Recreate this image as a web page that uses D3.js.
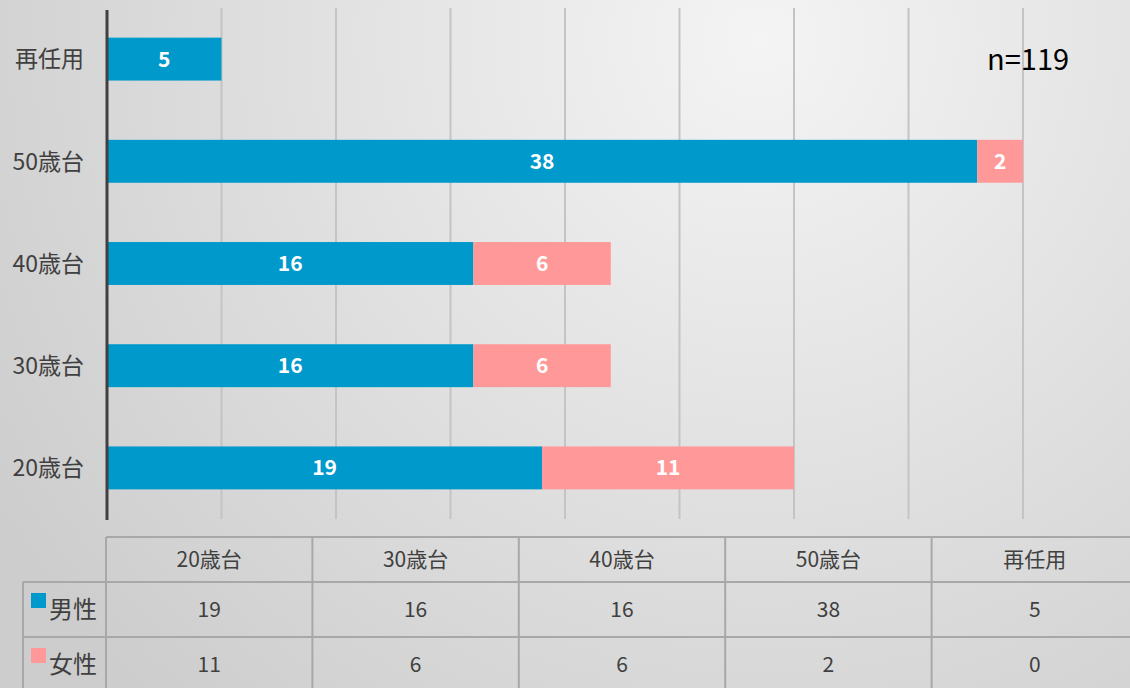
<!DOCTYPE html>
<html>
<head>
<meta charset="utf-8">
<script src="https://cdn.jsdelivr.net/npm/d3@7"></script>
<style>
  body { margin: 0; overflow: hidden; }
  svg { display: block; font-family: "Noto Sans CJK JP", "Noto Sans", sans-serif; }
</style>
</head>
<body>
<script>
// data
var categories = ["再任用", "50歳台", "40歳台", "30歳台", "20歳台"];
var tableOrder = ["20歳台", "30歳台", "40歳台", "50歳台", "再任用"];
var male = { "20歳台": 19, "30歳台": 16, "40歳台": 16, "50歳台": 38, "再任用": 5 };
var female = { "20歳台": 11, "30歳台": 6, "40歳台": 6, "50歳台": 2, "再任用": 0 };
var seriesNames = ["男性", "女性"];
var colors = ["#0099cc", "#ff9999"];
var xTicks = [5, 10, 15, 20, 25, 30, 35, 40];

var W = 1130, H = 688;

var svg = d3.select("body").append("svg")
  .attr("width", W)
  .attr("height", H);

var defs = svg.append("defs");
var grad = defs.append("radialGradient")
  .attr("id", "bg")
  .attr("gradientUnits", "userSpaceOnUse")
  .attr("cx", 760).attr("cy", 40).attr("r", 900);
grad.append("stop").attr("offset", "0%").attr("stop-color", "#f4f4f4");
grad.append("stop").attr("offset", "100%").attr("stop-color", "#cdcdcd");

svg.append("rect")
  .attr("width", W).attr("height", H)
  .attr("fill", "url(#bg)");

var x = d3.scaleLinear().domain([0, 40]).range([107, 1023]);
var y = d3.scaleBand().domain(categories).range([8, 519]).paddingInner(0.58).paddingOuter(0.29);

// gridlines
svg.append("g").selectAll("line")
  .data(xTicks)
  .enter().append("line")
  .attr("x1", function(d) { return x(d); })
  .attr("x2", function(d) { return x(d); })
  .attr("y1", 8).attr("y2", 519)
  .attr("stroke", "#c4c4c4")
  .attr("stroke-width", 2);

// stacked bars
var stackData = categories.map(function(c) {
  return { cat: c, "男性": male[c], "女性": female[c] };
});
var stack = d3.stack().keys(seriesNames)(stackData);

var layers = svg.append("g").selectAll("g")
  .data(stack)
  .enter().append("g")
  .attr("fill", function(d, i) { return colors[i]; });

layers.selectAll("rect")
  .data(function(d) { return d.filter(function(s) { return s[1] - s[0] > 0; }); })
  .enter().append("rect")
  .attr("x", function(d) { return x(d[0]); })
  .attr("y", function(d) { return y(d.data.cat); })
  .attr("width", function(d) { return x(d[1]) - x(d[0]); })
  .attr("height", y.bandwidth());

layers.selectAll("text")
  .data(function(d) { return d.filter(function(s) { return s[1] - s[0] > 0; }); })
  .enter().append("text")
  .attr("x", function(d) { return (x(d[0]) + x(d[1])) / 2; })
  .attr("y", function(d) { return y(d.data.cat) + y.bandwidth() / 2; })
  .attr("dy", "0.36em")
  .attr("text-anchor", "middle")
  .attr("fill", "#ffffff")
  .attr("font-weight", "bold")
  .attr("font-size", 21)
  .text(function(d) { return d[1] - d[0]; });

// y axis
svg.append("line")
  .attr("x1", 107).attr("x2", 107)
  .attr("y1", 10).attr("y2", 520)
  .attr("stroke", "#404040")
  .attr("stroke-width", 3);

svg.append("g").selectAll("text")
  .data(categories)
  .enter().append("text")
  .attr("x", 84)
  .attr("y", function(d) { return y(d) + y.bandwidth() / 2; })
  .attr("dy", "0.36em")
  .attr("text-anchor", "end")
  .attr("fill", "#404040")
  .attr("font-size", 23)
  .text(function(d) { return d; });

// n label
svg.append("text")
  .attr("x", 987).attr("y", 70)
  .attr("font-size", 29)
  .attr("fill", "#000")
  .text("n=119");

// data table
var colX = d3.scaleBand().domain(tableOrder).range([106, 1138]);
var rowTop = [537, 582, 637, 700];
var tbl = svg.append("g");
var lineColor = "#a8a8a8";

// horizontal lines
tbl.append("line").attr("x1", 106).attr("x2", W).attr("y1", rowTop[0]).attr("y2", rowTop[0])
  .attr("stroke", lineColor).attr("stroke-width", 2);
[rowTop[1], rowTop[2]].forEach(function(yy) {
  tbl.append("line").attr("x1", 23).attr("x2", W).attr("y1", yy).attr("y2", yy)
    .attr("stroke", lineColor).attr("stroke-width", 2);
});
// vertical lines
tbl.selectAll("line.v")
  .data(tableOrder)
  .enter().append("line")
  .attr("class", "v")
  .attr("x1", function(d) { return colX(d); })
  .attr("x2", function(d) { return colX(d); })
  .attr("y1", rowTop[0])
  .attr("y2", H)
  .attr("stroke", lineColor).attr("stroke-width", 2);
tbl.append("line").attr("x1", 23).attr("x2", 23).attr("y1", rowTop[1]).attr("y2", H)
  .attr("stroke", lineColor).attr("stroke-width", 2);

// header
tbl.selectAll("text.h")
  .data(tableOrder)
  .enter().append("text")
  .attr("class", "h")
  .attr("x", function(d) { return colX(d) + colX.bandwidth() / 2; })
  .attr("y", (rowTop[0] + rowTop[1]) / 2)
  .attr("dy", "0.36em")
  .attr("text-anchor", "middle")
  .attr("fill", "#404040")
  .attr("font-size", 21)
  .text(function(d) { return d; });

var rows = [male, female];
rows.forEach(function(r, ri) {
  var cy = ri === 0 ? 609 : 664;
  tbl.append("g").selectAll("text")
    .data(tableOrder)
    .enter().append("text")
    .attr("x", function(d) { return colX(d) + colX.bandwidth() / 2; })
    .attr("y", cy)
    .attr("dy", "0.36em")
    .attr("text-anchor", "middle")
    .attr("fill", "#404040")
    .attr("font-size", 21)
    .text(function(d) { return r[d]; });
  tbl.append("rect")
    .attr("x", 31).attr("y", cy - 16)
    .attr("width", 15).attr("height", 15)
    .attr("fill", colors[ri]);
  tbl.append("text")
    .attr("x", 49).attr("y", cy)
    .attr("dy", "0.36em")
    .attr("fill", "#404040")
    .attr("font-size", 24)
    .text(seriesNames[ri]);
});
</script>
</body>
</html>
